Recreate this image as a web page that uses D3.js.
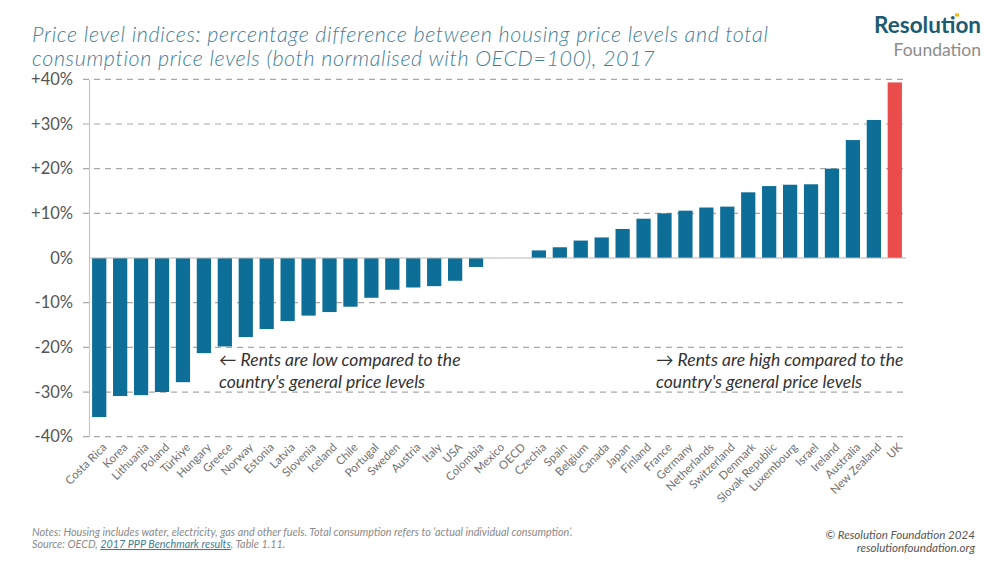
<!DOCTYPE html>
<html>
<head>
<meta charset="utf-8">
<script src="https://cdn.jsdelivr.net/npm/d3@7"></script>
<style>
  html, body { margin: 0; padding: 0; background: #fff; }
  svg { display: block; }
  text { font-family: Lato, "Open Sans", sans-serif; }
</style>
</head>
<body>
<svg id="chart" width="1000" height="563"></svg>
<script>
const categories = ["Costa Rica","Korea","Lithuania","Poland","Türkiye","Hungary","Greece","Norway","Estonia","Latvia","Slovenia","Iceland","Chile","Portugal","Sweden","Austria","Italy","USA","Colombia","Mexico","OECD","Czechia","Spain","Belgium","Canada","Japan","Finland","France","Germany","Netherlands","Switzerland","Denmark","Slovak Republic","Luxembourg","Israel","Ireland","Australia","New Zealand","UK"];
const values = [-35.6,-30.9,-30.7,-30.0,-27.8,-21.3,-19.8,-17.7,-15.9,-14.1,-12.9,-12.1,-10.9,-8.9,-7.1,-6.6,-6.3,-5.1,-2.0,0,0,1.7,2.4,3.9,4.6,6.5,8.8,10.0,10.6,11.3,11.5,14.7,16.1,16.4,16.5,20.0,26.4,30.9,39.3];
const highlight = ["UK"];
const yTicks = [-40,-30,-20,-10,0,10,20,30,40];
const yTickLabels = ["-40%","-30%","-20%","-10%","0%","+10%","+20%","+30%","+40%"];
const titleLines = ["Price level indices: percentage difference between housing price levels and total","consumption price levels (both normalised with OECD=100), 2017"];
const noteLines = ["Notes: Housing includes water, electricity, gas and other fuels. Total consumption refers to \u2018actual individual consumption\u2019."];
const annoLeft = ["\u2190 Rents are low compared to the","country's general price levels"];
const annoRight = ["\u2192 Rents are high compared to the","country's general price levels"];

const svg = d3.select("#chart");
const plotL = 90, plotR = 904, plotT = 79.3, plotB = 436.7;

const x = d3.scaleBand().domain(categories).range([plotL, plotR]).paddingInner(0.32).paddingOuter(0.1);
const y = d3.scaleLinear().domain([-40, 40]).range([plotB, plotT]);

// Title
svg.append("g").selectAll("text").data(titleLines).join("text")
  .attr("x", 32).attr("y", (d, i) => 42 + i * 24)
  .attr("font-size", 21.5).attr("font-style", "italic").attr("fill", "#44809a")
  .attr("font-weight", 300).attr("letter-spacing", 0.62)
  .text(d => d);

// Logo
svg.append("text").attr("x", 981).attr("y", 33).attr("text-anchor", "end")
  .attr("font-size", 22.5).attr("font-weight", 700).attr("fill", "#1d5b70").text("Resolution");
svg.append("text").attr("x", 981).attr("y", 55.5).attr("text-anchor", "end")
  .attr("font-size", 17.5).attr("font-weight", 400).attr("fill", "#8c8c8c").text("Foundation");
svg.append("rect").attr("x", 955).attr("y", 13.5).attr("width", 4).attr("height", 3).attr("fill", "#f2b705");

// Gridlines
svg.append("g").selectAll("line").data(yTicks.filter(d => d !== 0)).join("line")
  .attr("x1", 83).attr("x2", plotR + 2)
  .attr("y1", d => y(d)).attr("y2", d => y(d))
  .attr("stroke", "#a8a8a8").attr("stroke-width", 1.2).attr("stroke-dasharray", "6,5");

// Y axis
const yAxis = d3.axisLeft(y).tickValues(yTicks).tickFormat((d, i) => yTickLabels[i]).tickSize(0).tickPadding(16);
const yg = svg.append("g").attr("transform", `translate(${plotL - 1},0)`).call(yAxis);
yg.select(".domain").attr("stroke", "#c8c8c8").attr("stroke-width", 1.2);
yg.selectAll("text").attr("font-size", 16.5).attr("fill", "#555").attr("font-family", "Lato, sans-serif");

// Bars
svg.append("g").selectAll("rect").data(categories).join("rect")
  .attr("x", d => x(d))
  .attr("width", x.bandwidth())
  .attr("y", (d, i) => y(Math.max(0, values[i])))
  .attr("height", (d, i) => Math.abs(y(values[i]) - y(0)))
  .attr("fill", d => highlight.includes(d) ? "#ea4b4b" : "#0d6e97");

// Zero line
svg.append("line").attr("x1", plotL - 1).attr("x2", plotR + 2)
  .attr("y1", y(0)).attr("y2", y(0)).attr("stroke", "#b8b8b8").attr("stroke-width", 1.2);

// X axis labels
const xAxis = d3.axisBottom(x).tickSize(0).tickPadding(0);
const xg = svg.append("g").attr("transform", `translate(0,${plotB + 8})`).call(xAxis);
xg.select(".domain").remove();
xg.selectAll("text")
  .attr("font-size", 11.5).attr("fill", "#707070").attr("font-family", "Lato, sans-serif")
  .attr("text-anchor", "end").attr("dy", "0.7em").attr("dx", "0.3em")
  .attr("transform", "rotate(-45)");

// Annotations
svg.append("g").selectAll("text").data(annoLeft).join("text")
  .attr("x", 219).attr("y", (d, i) => 366 + i * 22)
  .attr("font-size", 17.5).attr("font-style", "italic").attr("fill", "#333").text(d => d);
svg.append("g").selectAll("text").data(annoRight).join("text")
  .attr("x", 656).attr("y", (d, i) => 366 + i * 22)
  .attr("font-size", 17.5).attr("font-style", "italic").attr("fill", "#333").text(d => d);

// Footer notes
svg.append("text").attr("x", 32).attr("y", 536).attr("font-size", 10.8).attr("font-style", "italic").attr("fill", "#8a8a8a").text(noteLines[0]);
const src = svg.append("text").attr("x", 32).attr("y", 548).attr("font-size", 10.8).attr("font-style", "italic").attr("fill", "#8a8a8a");
src.append("tspan").text("Source: OECD, ");
src.append("tspan").attr("fill", "#3f7c94").attr("text-decoration", "underline").text("2017 PPP Benchmark results");
src.append("tspan").text(", Table 1.11.");

svg.append("text").attr("x", 975).attr("y", 539).attr("text-anchor", "end").attr("font-size", 11.6).attr("font-style", "italic").attr("fill", "#555").text("\u00a9 Resolution Foundation 2024");
svg.append("text").attr("x", 975).attr("y", 552).attr("text-anchor", "end").attr("font-size", 11.6).attr("font-style", "italic").attr("fill", "#555").text("resolutionfoundation.org");
</script>
</body>
</html>
